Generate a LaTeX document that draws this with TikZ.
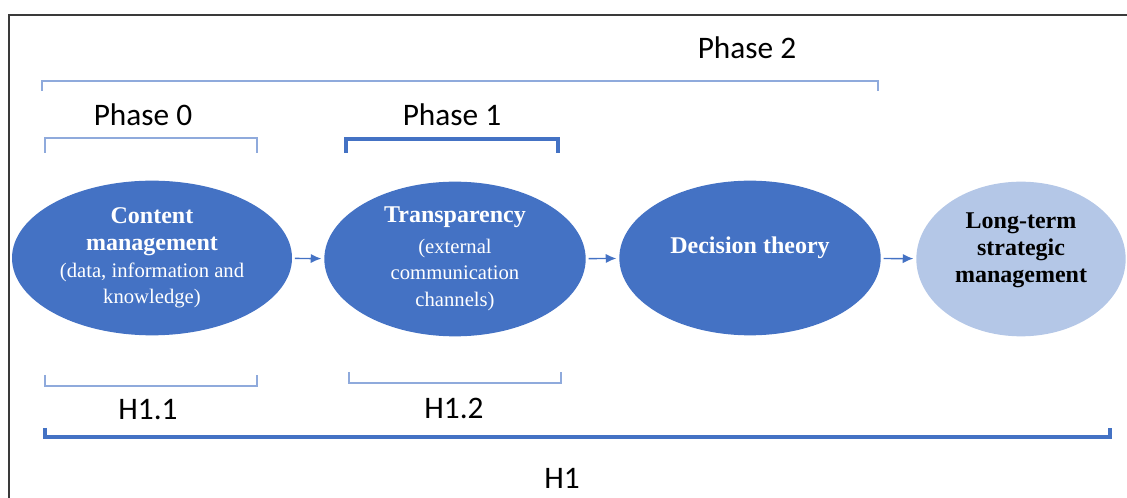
\documentclass[tikz,border=0pt]{standalone}
\usepackage{fontspec}
\setmainfont{Carlito}
\newfontfamily\timesfont{Liberation Serif}
\usepackage{tikz}
\usetikzlibrary{positioning}
\usetikzlibrary{shapes,arrows.meta}
\definecolor{darkblue}{HTML}{4472C4}
\definecolor{paleblue}{HTML}{B4C7E7}
\definecolor{lineblue}{HTML}{8FAADC}
\definecolor{framegray}{HTML}{3A3A3A}
\newcommand{\subfont}{\fontsize{15.5}{19}\selectfont\mdseries}
\tikzset{
	x=0.75pt, y=-0.75pt,
	phase/.style = {font=\fontsize{23.5}{28}\selectfont, inner sep=0pt},
	stage/.style = {ellipse, fill=darkblue, text=white, minimum height=116pt,
	 inner sep=0pt, align=center,
	 font=\timesfont\fontsize{18}{20}\selectfont\bfseries},
	flow/.style = {draw=darkblue, line width=1.1pt, shorten <=2pt, shorten >=2pt,
	 -{Latex[length=8pt,width=7pt]}},
	thinbr/.style = {draw=lineblue, line width=1.1pt},
	thickbr/.style = {draw=darkblue, line width=2.6pt},
}
\begin{document}
\begin{tikzpicture}
	\useasboundingbox (0,0) rectangle (1127,498);
	\draw[framegray, line width=1.8pt] (9,498) -- (9,15) -- (1127,15);
	% stages
	\node (content) [stage, minimum width=210pt] at (152,258)
	  {Content\\management\\\subfont (data, information and\\\subfont knowledge)};
	\node (transp) [stage, minimum width=196pt] at (455,259)
	  {Transparency\\[3pt]\subfont (external\\\subfont communication\\\subfont channels)};
	\node (decision) [stage, minimum width=196pt, text depth=19pt] at (750,258)
	  {Decision theory};
	\node (longterm) [stage, minimum width=157pt, fill=paleblue, text=black,
	  text depth=17pt] at (1021,259)
	  {Long-term\\strategic\\management};
	\draw[flow] (content) -- (transp);
	\draw[flow] (transp) -- (decision);
	\draw[flow] (decision) -- (longterm);
	% phases
	\node (ph2) [phase] at (747,48) {Phase 2};
	\draw[thinbr] (42,91) -- (42,81) -- (878,81) -- (878,91);
	\node (ph0) [phase] at (143,115) {Phase 0};
	\draw[thinbr] (45,153) -- (45,138) -- (257,138) -- (257,153);
	\node (ph1) [phase] at (452,115) {Phase 1};
	\draw[thickbr] (346,153) -- (346,139) -- (558,139) -- (558,153);
	% hypotheses
	\draw[thinbr] (45,375) -- (45,386) -- (257,386) -- (257,375);
	\node (h11) [phase] at (148,410) {H1.1};
	\draw[thinbr] (349,372) -- (349,383) -- (561,383) -- (561,372);
	\node (h12) [phase] at (454,408) {H1.2};
	\draw[thickbr] (45,428) -- (45,437) -- (1110,437) -- (1110,428);
	\node (h1) [phase] at (562,478) {H1};
\end{tikzpicture}
\end{document}
